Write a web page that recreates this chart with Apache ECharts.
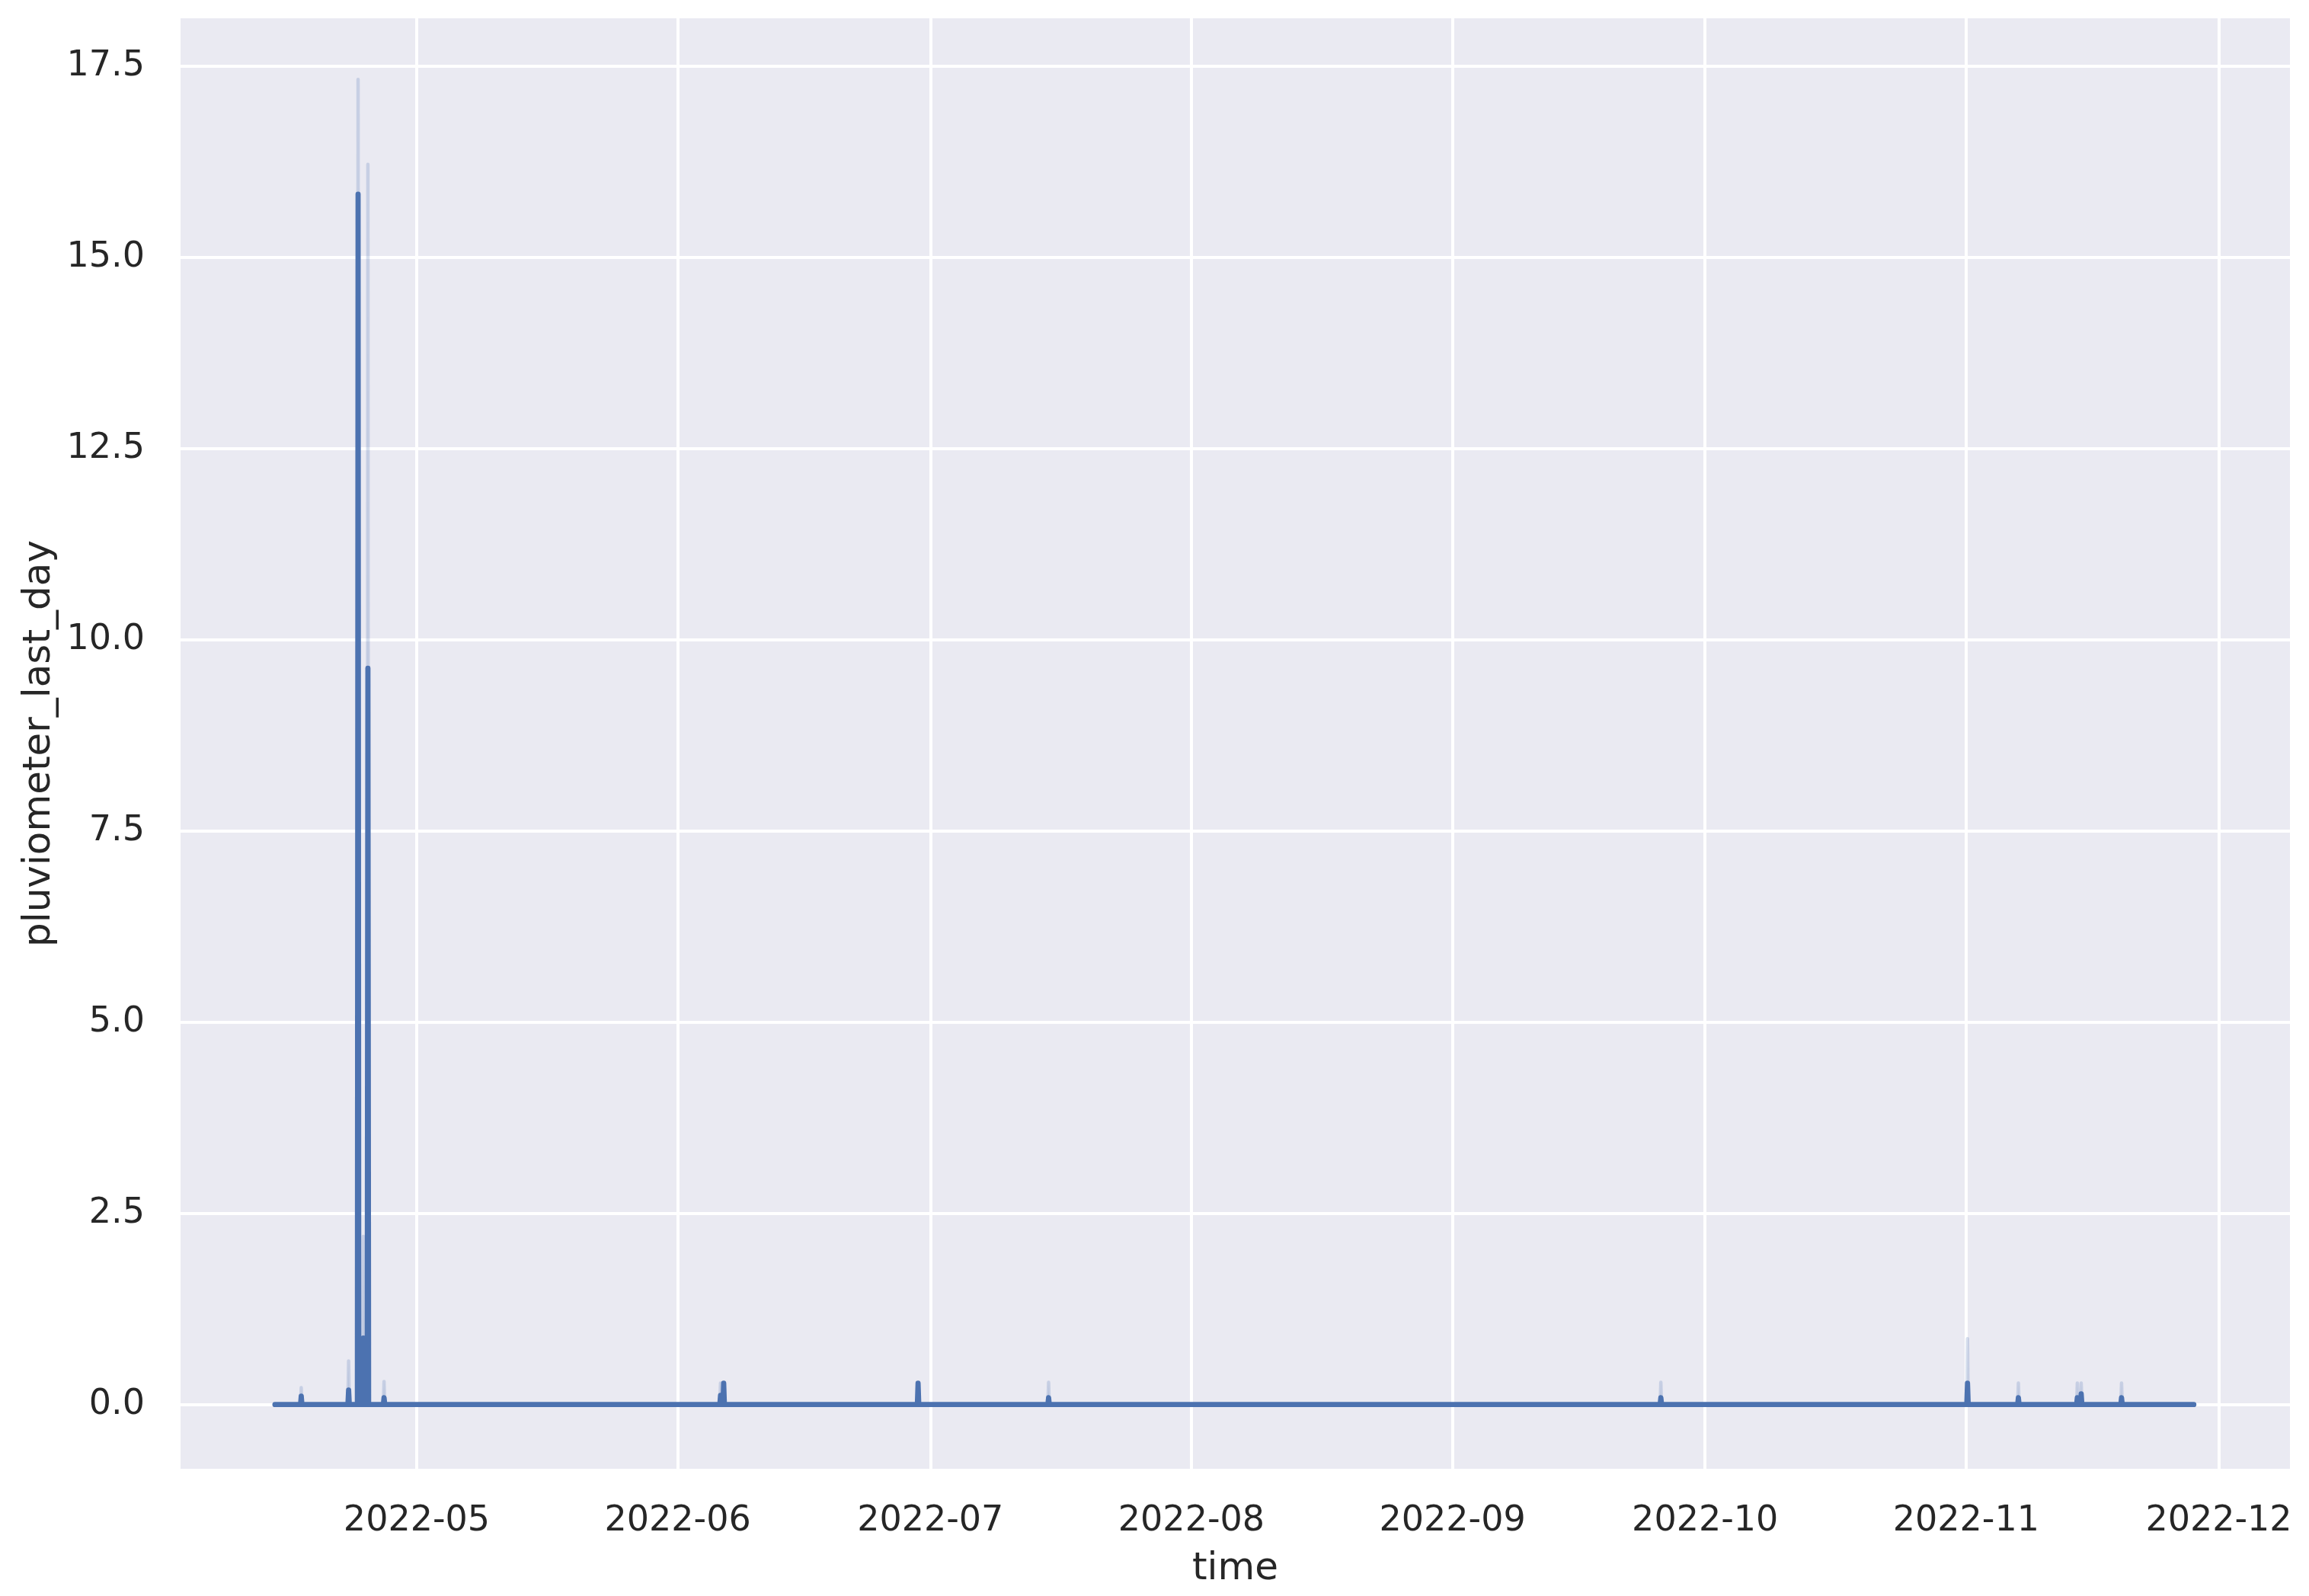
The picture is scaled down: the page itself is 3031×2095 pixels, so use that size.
<!DOCTYPE html>
<html>
<head>
<meta charset="utf-8">
<title>pluviometer_last_day</title>
<script src="https://cdn.jsdelivr.net/npm/echarts@6/dist/echarts.min.js"></script>
<style>
  html, body { margin: 0; padding: 0; background: #ffffff; }
  #chart { width: 3031px; height: 2095px; }
</style>
</head>
<body>
<div id="chart"></div>
<script>
// hourly readings, only the hours around the rain events (rest is 0)
let times = [
  '2022-04-14 04:00',
  '2022-04-17 05:00', '2022-04-17 07:00', '2022-04-17 09:00',
  '2022-04-22 20:00', '2022-04-22 22:00', '2022-04-23 00:00',
  '2022-04-23 23:00', '2022-04-24 01:00', '2022-04-24 03:00',
  '2022-04-24 14:00', '2022-04-24 16:00', '2022-04-24 18:00',
  '2022-04-25 03:00', '2022-04-25 05:00', '2022-04-25 07:00',
  '2022-04-27 01:00', '2022-04-27 03:00', '2022-04-27 05:00',
  '2022-06-06 00:00', '2022-06-06 02:00', '2022-06-06 04:00',
  '2022-06-06 09:00', '2022-06-06 11:00', '2022-06-06 13:00',
  '2022-06-29 11:00', '2022-06-29 13:00', '2022-06-29 15:00',
  '2022-07-14 23:00', '2022-07-15 01:00', '2022-07-15 03:00',
  '2022-09-25 16:00', '2022-09-25 18:00', '2022-09-25 20:00',
  '2022-11-01 02:00', '2022-11-01 04:00', '2022-11-01 06:00',
  '2022-11-07 03:00', '2022-11-07 05:00', '2022-11-07 07:00',
  '2022-11-14 03:00', '2022-11-14 05:00', '2022-11-14 07:00',
  '2022-11-14 14:00', '2022-11-14 16:00', '2022-11-14 18:00',
  '2022-11-19 09:00', '2022-11-19 11:00', '2022-11-19 13:00',
  '2022-11-28 01:00'
]
let meanVals = [
  0,
  0, 0.11, 0,
  0, 0.19, 0,
  0, 15.83, 0,
  0, 0.87, 0,
  0, 9.63, 0,
  0, 0.09, 0,
  0, 0.12, 0,
  0, 0.28, 0,
  0, 0.28, 0,
  0, 0.09, 0,
  0, 0.09, 0,
  0, 0.28, 0,
  0, 0.09, 0,
  0, 0.09, 0,
  0, 0.14, 0,
  0, 0.09, 0,
  0
]
let ciLow = [
  0,
  0, 0, 0,
  0, 0, 0,
  0, 14.3, 0,
  0, 0, 0,
  0, 3.0, 0,
  0, 0, 0,
  0, 0, 0,
  0, 0.28, 0,
  0, 0.28, 0,
  0, 0, 0,
  0, 0, 0,
  0, 0, 0,
  0, 0, 0,
  0, 0, 0,
  0, 0, 0,
  0, 0, 0,
  0
]
let ciHigh = [
  0,
  0, 0.22, 0,
  0, 0.57, 0,
  0, 17.33, 0,
  0, 2.2, 0,
  0, 16.22, 0,
  0, 0.30, 0,
  0, 0.28, 0,
  0, 0.28, 0,
  0, 0.28, 0,
  0, 0.29, 0,
  0, 0.29, 0,
  0, 0.86, 0,
  0, 0.28, 0,
  0, 0.28, 0,
  0, 0.28, 0,
  0, 0.28, 0,
  0
]
let xTicks = ['2022-05-01', '2022-06-01', '2022-07-01', '2022-08-01', '2022-09-01', '2022-10-01', '2022-11-01', '2022-12-01']
let yTicks = [0, 2.5, 5, 7.5, 10, 12.5, 15, 17.5]

let toTime = s => new Date(s.replace(' ', 'T') + (s.length === 10 ? 'T00:00:00' : ':00')).getTime()

let textColor = '#262626'
let blue = '#4c72b0'
let font = 'DejaVu Sans'

let option = {
  backgroundColor: '#ffffff',
  animation: false,
  grid: {
    left: 237, right: 25, top: 24, bottom: 167,
    show: true, backgroundColor: '#eaeaf2', borderWidth: 0,
    containLabel: false, outerBoundsMode: 'none'
  },
  xAxis: {
    // timestamps on a value axis, so the month ticks can be given directly
    type: 'value',
    min: toTime('2022-04-02 23:00'),
    max: toTime('2022-12-09 11:00'),
    name: 'time',
    nameLocation: 'middle',
    nameGap: 107,
    nameTextStyle: { fontFamily: font, fontSize: 50, color: textColor },
    axisLine: { show: false },
    axisTick: { show: false, customValues: xTicks.map(toTime) },
    axisLabel: {
      customValues: xTicks.map(toTime),
      fontFamily: font, fontSize: 46, color: textColor, margin: 46,
      formatter: v => {
        let d = new Date(v)
        return d.getFullYear() + '-' + String(d.getMonth() + 1).padStart(2, '0')
      }
    },
    splitLine: { show: true, lineStyle: { color: '#ffffff', width: 4 } }
  },
  yAxis: {
    type: 'value',
    min: -0.84,
    max: 18.13,
    name: 'pluviometer_last_day',
    nameLocation: 'middle',
    nameGap: 158,
    nameTextStyle: { fontFamily: font, fontSize: 50, color: textColor },
    axisLine: { show: false },
    axisTick: { show: false, customValues: yTicks },
    axisLabel: {
      customValues: yTicks,
      fontFamily: font, fontSize: 46, color: textColor, margin: 47,
      formatter: v => v.toFixed(1)
    },
    splitLine: { show: true, lineStyle: { color: '#ffffff', width: 4 } }
  },
  series: [
    {
      // confidence band, upper edge + fill down to 0
      type: 'line',
      showSymbol: false,
      silent: true,
      z: 1,
      lineStyle: { color: 'rgba(76,114,176,0.22)', width: 4.5, cap: 'round', join: 'round' },
      areaStyle: { color: 'rgba(76,114,176,0.2)' },
      data: times.map((t, i) => [toTime(t), ciHigh[i]])
    },
    {
      // confidence band, lower edge
      type: 'line',
      showSymbol: false,
      silent: true,
      z: 1,
      lineStyle: { color: 'rgba(76,114,176,0.22)', width: 4.5, cap: 'round', join: 'round' },
      data: times.map((t, i) => [toTime(t), ciLow[i]])
    },
    {
      // mean
      type: 'line',
      showSymbol: false,
      z: 2,
      lineStyle: { color: blue, width: 6.8, cap: 'round', join: 'round' },
      data: times.map((t, i) => [toTime(t), meanVals[i]])
    }
  ]
}

let myChart = echarts.init(document.getElementById('chart'))
myChart.setOption(option)
</script>
</body>
</html>
